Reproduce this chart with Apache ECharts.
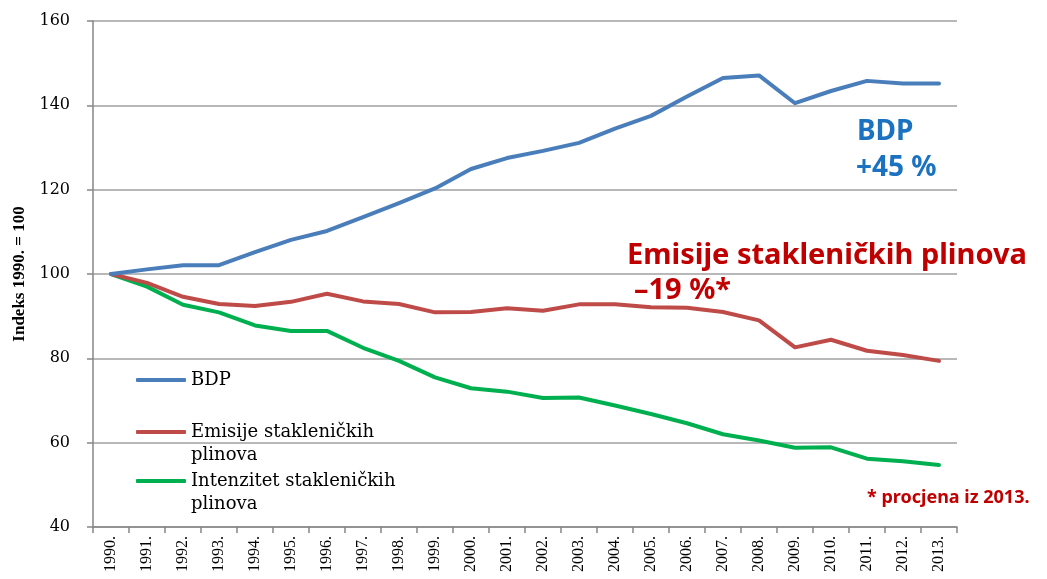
<!DOCTYPE html>
<html>
<head>
<meta charset="utf-8">
<script src="https://cdn.jsdelivr.net/npm/echarts@6/dist/echarts.min.js"></script>
<style>
  html, body { margin: 0; padding: 0; background: #fff; }
  #chart { width: 1047px; height: 579px; }
</style>
</head>
<body>
<div id="chart"></div>
<script>
// Years on the category axis
const years = ['1990.', '1991.', '1992.', '1993.', '1994.', '1995.', '1996.', '1997.',
  '1998.', '1999.', '2000.', '2001.', '2002.', '2003.', '2004.', '2005.', '2006.',
  '2007.', '2008.', '2009.', '2010.', '2011.', '2012.', '2013.'];

// Index values, 1990. = 100
const bdp = [100, 101.1, 102.1, 102.1, 105.2, 108.1, 110.2, 113.5, 116.8, 120.3,
  124.9, 127.5, 129.2, 131.1, 134.5, 137.5, 142.1, 146.5, 147.1, 140.5,
  143.4, 145.8, 145.2, 145.2];
const emisije = [100, 97.9, 94.6, 92.9, 92.4, 93.4, 95.3, 93.5, 92.9, 90.9,
  91.0, 91.9, 91.3, 92.8, 92.8, 92.1, 92.0, 91.0, 89.0, 82.6,
  84.4, 81.8, 80.8, 79.4];
const intenzitet = [100, 97.0, 92.7, 90.9, 87.8, 86.5, 86.5, 82.5, 79.4, 75.5,
  72.9, 72.1, 70.6, 70.7, 68.8, 66.8, 64.6, 62.0, 60.5, 58.8,
  58.9, 56.2, 55.6, 54.7];

// Y-axis range and step
const yMin = 40, yMax = 160, yStep = 20;

const seriesNames = ['BDP', 'Emisije stakleničkih plinova', 'Intenzitet stakleničkih plinova'];
const seriesColors = ['#4a7ebb', '#be4b48', '#00b050'];
const seriesData = [bdp, emisije, intenzitet];

const chart = echarts.init(document.getElementById('chart'), null, { renderer: 'canvas' });

const serif = '"Liberation Serif", "Times New Roman", serif';
const wideSerif = '"DejaVu Serif", serif';
const sans = '"Noto Sans", Lato, sans-serif';

// One legend per entry; wrapped names get an empty leading line so the
// marker sits beside their first line of text
function legendFor(i, top) {
  const wrapped = i > 0;
  return {
    orient: 'vertical',
    left: 136,
    top: top,
    padding: 0,
    itemWidth: 50,
    itemHeight: 4,
    itemGap: 0,
    icon: 'roundRect',
    data: [seriesNames[i]],
    formatter: function (name) {
      return wrapped ? '\n' + name.replace(' plinova', '\nplinova') : name;
    },
    textStyle: {
      fontFamily: wideSerif,
      fontSize: 18,
      lineHeight: 23,
      color: '#000'
    },
    selectedMode: false
  };
}

function note(text, x, y, size, color) {
  return {
    type: 'text',
    x: x,
    y: y,
    style: {
      text: text,
      fill: color,
      font: 'bold ' + size + 'px ' + sans,
      align: 'left',
      verticalAlign: 'middle'
    }
  };
}

const option = {
  backgroundColor: '#fff',
  animation: false,
  grid: { left: 93, right: 90, top: 21, bottom: 52, containLabel: false },
  legend: [legendFor(0, 368.5), legendFor(1, 397.5), legendFor(2, 446.5)],
  xAxis: {
    type: 'category',
    data: years,
    boundaryGap: true,
    axisLine: { lineStyle: { color: '#868686', width: 1.5 } },
    axisTick: { show: true, alignWithLabel: false, length: 6, lineStyle: { color: '#868686', width: 1.5 } },
    axisLabel: {
      rotate: 90,
      interval: 0,
      margin: 9,
      fontFamily: serif,
      fontSize: 16,
      color: '#000'
    },
    splitLine: { show: false }
  },
  yAxis: {
    type: 'value',
    min: yMin,
    max: yMax,
    interval: yStep,
    name: 'Indeks 1990. = 100',
    nameLocation: 'middle',
    nameGap: 63,
    nameRotate: 90,
    nameTextStyle: {
      fontFamily: serif,
      fontSize: 17,
      fontWeight: 'bold',
      color: '#000'
    },
    axisLine: { show: true, lineStyle: { color: '#868686', width: 1.5 } },
    axisTick: { show: true, length: 6, lineStyle: { color: '#868686', width: 1.5 } },
    axisLabel: {
      margin: 23,
      fontFamily: wideSerif,
      fontSize: 16,
      color: '#000'
    },
    splitLine: { show: true, lineStyle: { color: '#a0a0a0', width: 1.5 } }
  },
  series: seriesData.map(function (d, i) {
    return {
      name: seriesNames[i],
      type: 'line',
      data: d,
      symbol: 'none',
      smooth: false,
      z: 3 - i,
      itemStyle: { color: seriesColors[i] },
      lineStyle: { color: seriesColors[i], width: 4, cap: 'round', join: 'round' }
    };
  }),
  graphic: [
    note('BDP', 857, 132, 28, '#1a72c0'),
    note('+45 %', 856, 168, 28, '#1a72c0'),
    note('Emisije stakleničkih plinova', 627, 256, 29, '#c00000'),
    note('\u201319 %*', 634, 291, 29, '#c00000'),
    note('* procjena iz 2013.', 867, 498, 18, '#c00000')
  ]
};

chart.setOption(option);
</script>
</body>
</html>
